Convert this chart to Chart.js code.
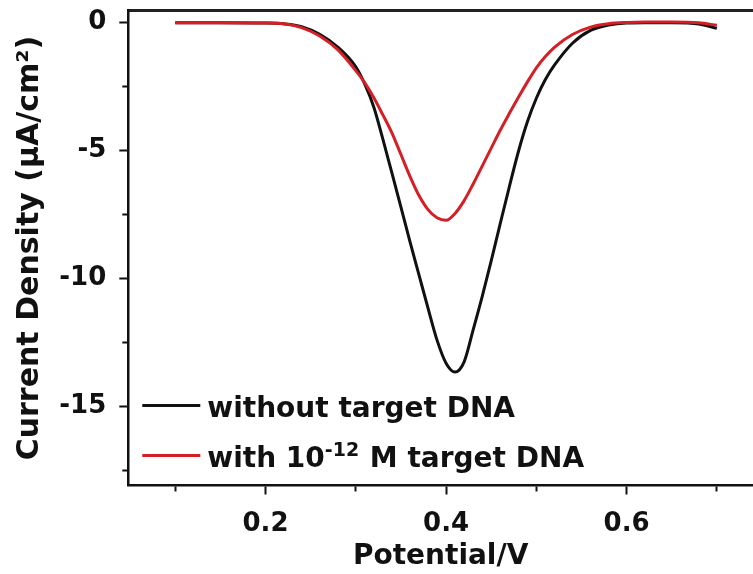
<!DOCTYPE html>
<html>
<head>
<meta charset="utf-8">
<script src="https://cdn.jsdelivr.net/npm/chart.js@4.4.1/dist/chart.umd.min.js"></script>
<style>
  html, body { margin: 0; padding: 0; background: #fff; overflow: hidden; }
  #wrap { width: 753px; height: 574px; position: relative; }
</style>
</head>
<body>
<div id="wrap"><canvas id="dpv"></canvas></div>
<script>
// DPV scans, potential in V, current density in uA/cm2
const potential = [0.10, 0.15, 0.20, 0.22, 0.24, 0.26, 0.28, 0.30, 0.31, 0.32,
                   0.33, 0.34, 0.35, 0.36, 0.37, 0.38, 0.39, 0.40, 0.41, 0.42,
                   0.43, 0.44, 0.45, 0.46, 0.47, 0.48, 0.49, 0.50, 0.51, 0.52,
                   0.54, 0.56, 0.58, 0.60, 0.62, 0.65, 0.68, 0.70];

const currentWithout = [0.0, 0.0, -0.01, -0.04, -0.15, -0.45, -0.95, -1.72, -2.4, -3.3,
                        -4.55, -5.87, -7.2, -8.55, -9.85, -11.15, -12.4, -13.3, -13.65, -13.25,
                        -12.0, -10.7, -9.3, -7.85, -6.42, -5.05, -3.88, -2.95, -2.22, -1.66,
                        -0.8, -0.3, -0.09, -0.01, 0.0, 0.0, -0.05, -0.22];

const currentWith = [0.0, 0.0, -0.01, -0.04, -0.19, -0.52, -1.05, -1.87, -2.35, -2.93,
                     -3.6, -4.3, -5.15, -6.0, -6.75, -7.3, -7.62, -7.72, -7.45, -6.95,
                     -6.3, -5.6, -4.9, -4.2, -3.55, -2.92, -2.32, -1.76, -1.32, -0.96,
                     -0.46, -0.17, -0.04, 0.01, 0.03, 0.03, 0.0, -0.1];

const seriesLabels = ['without target DNA', 'with 10\u207B\u00B9\u00B2 M target DNA'];
const seriesColors = ['#111111', '#d41f26'];

const xTicks = [0.1, 0.2, 0.3, 0.4, 0.5, 0.6, 0.7];
const xLabelled = [0.2, 0.4, 0.6];
const yTicks = [0, -2.5, -5, -7.5, -10, -12.5, -15, -17.5];
const yLabelled = [0, -5, -10, -15];

const FONT = '"DejaVu Sans", sans-serif';
const AXIS = '#111111';

const toPoints = ys => potential.map((x, i) => ({ x: x, y: ys[i] }));
const isIn = (list, v) => list.some(t => Math.abs(t - v) < 1e-6);

// fixed axis boxes, no extra room for overhanging tick labels
const fixBox = (s, size) => {
  if (s.isHorizontal()) s.height = size; else s.width = size;
  s.paddingTop = 0; s.paddingBottom = 0; s.paddingLeft = 0; s.paddingRight = 0;
};

// superscript glyphs in labels are drawn as small raised text
const SUP = { '\u207B': '-', '\u2070': '0', '\u00B9': '1', '\u00B2': '2', '\u00B3': '3',
              '\u2074': '4', '\u2075': '5', '\u2076': '6', '\u2077': '7', '\u2078': '8', '\u2079': '9' };

function drawRich(ctx, text, x, y) {
  const runs = [];
  for (const ch of text) {
    const sup = ch in SUP;
    const last = runs[runs.length - 1];
    if (last && last.sup === sup) last.text += sup ? SUP[ch] : ch;
    else runs.push({ sup: sup, text: sup ? SUP[ch] : ch });
  }
  runs.forEach(r => {
    ctx.font = r.sup ? 'bold 19px ' + FONT : 'bold 28px ' + FONT;
    const dy = r.sup ? -11 : 0;
    ctx.fillText(r.text, x, y + dy);
    x += ctx.measureText(r.text).width + (r.sup ? 1 : 0);
  });
}

// legend sits inside the plot, lower left corner
const insetLegend = {
  id: 'insetLegend',
  afterDraw(chart) {
    const { ctx, chartArea } = chart;
    ctx.save();
    ctx.textBaseline = 'alphabetic';
    ctx.textAlign = 'left';
    chart.data.datasets.forEach((ds, i) => {
      const y = chartArea.bottom - 80 + i * 50;
      ctx.strokeStyle = ds.borderColor;
      ctx.lineWidth = 3;
      ctx.beginPath();
      ctx.moveTo(chartArea.left + 14, y);
      ctx.lineTo(chartArea.left + 72, y);
      ctx.stroke();
      ctx.fillStyle = '#111111';
      drawRich(ctx, ds.label, chartArea.left + 79, y + 11);
    });
    ctx.restore();
  }
};

new Chart(document.getElementById('dpv'), {
  type: 'line',
  data: {
    datasets: [
      {
        label: seriesLabels[0],
        data: toPoints(currentWithout),
        borderColor: seriesColors[0],
        borderWidth: 3,
        pointRadius: 0,
        cubicInterpolationMode: 'monotone',
        order: 2
      },
      {
        label: seriesLabels[1],
        data: toPoints(currentWith),
        borderColor: seriesColors[1],
        borderWidth: 3,
        pointRadius: 0,
        cubicInterpolationMode: 'monotone',
        order: 1
      }
    ]
  },
  options: {
    responsive: true,
    maintainAspectRatio: false,
    animation: false,
    layout: { padding: 0 },
    plugins: {
      legend: { display: false },
      tooltip: { enabled: false }
    },
    scales: {
      x: {
        type: 'linear',
        min: 0.048,
        max: 0.74,
        afterBuildTicks: s => { s.ticks = xTicks.map(v => ({ value: v })); },
        afterFit: s => fixBox(s, 88.5),
        border: { display: true, color: AXIS, width: 2.5 },
        grid: {
          drawOnChartArea: false,
          tickLength: 9,
          tickWidth: 2,
          tickColor: AXIS,
          tickBorderDash: c => isIn(xLabelled, c.tick.value) ? [] : [5, 100]
        },
        ticks: {
          padding: 14,
          color: '#111111',
          font: { family: FONT, size: 26, weight: 'bold' },
          maxRotation: 0,
          autoSkip: false,
          callback: v => isIn(xLabelled, v) ? v.toFixed(1) : ''
        },
        title: {
          display: true,
          text: 'Potential/V',
          color: '#111111',
          font: { family: FONT, size: 28, weight: 'bold', lineHeight: 1.2 },
          padding: { top: 0, bottom: 0 }
        }
      },
      xTop: {
        type: 'linear',
        axis: 'x',
        position: 'top',
        min: 0.048,
        max: 0.74,
        afterFit: s => fixBox(s, 10.7),
        border: { display: true, color: '#222222', width: 3 },
        grid: { display: false },
        ticks: { display: false }
      },
      y: {
        type: 'linear',
        min: -18.08,
        max: 0.47,
        afterBuildTicks: s => { s.ticks = yTicks.map(v => ({ value: v })); },
        afterFit: s => fixBox(s, 128.3),
        border: { display: true, color: AXIS, width: 2.5 },
        grid: {
          drawOnChartArea: false,
          tickLength: 9,
          tickWidth: 2,
          tickColor: AXIS,
          tickBorderDash: c => isIn(yLabelled, c.tick.value) ? [] : [0, 3, 5, 100]
        },
        ticks: {
          padding: 13,
          color: '#111111',
          font: { family: FONT, size: 26, weight: 'bold' },
          autoSkip: false,
          callback: v => isIn(yLabelled, v) ? String(v) : ''
        },
        title: {
          display: true,
          text: 'Current Density (\u03BCA/cm\u00B2)',
          color: '#111111',
          font: { family: FONT, size: 30, weight: 'bold', lineHeight: 1.2 },
          padding: { top: 12, bottom: 0 }
        }
      }
    }
  },
  plugins: [insetLegend]
});
</script>
</body>
</html>
